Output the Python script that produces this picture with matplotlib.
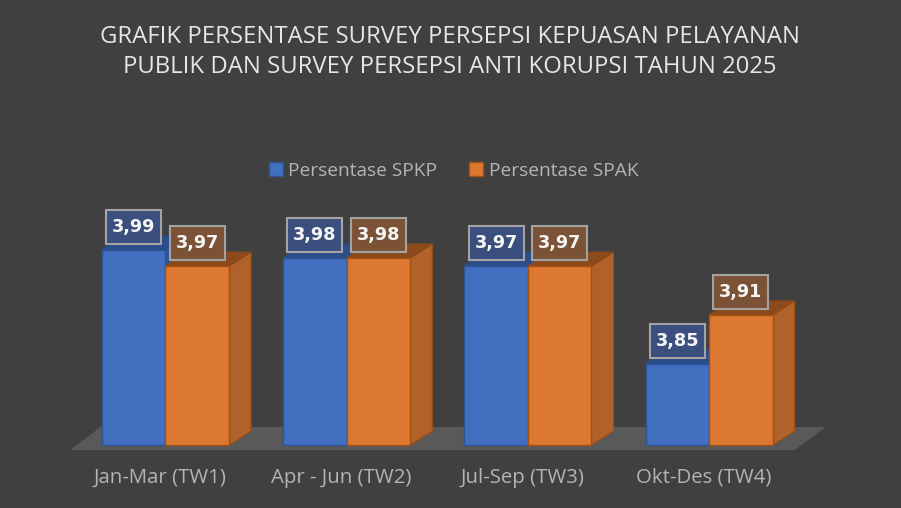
import matplotlib
matplotlib.use('Agg')
import matplotlib.pyplot as plt
from matplotlib.patches import Patch, Polygon, Rectangle

plt.rcParams['font.family'] = ['Open Sans', 'DejaVu Sans']

categories = ['Jan-Mar (TW1)', 'Apr - Jun (TW2)', 'Jul-Sep (TW3)', 'Okt-Des (TW4)']
spkp = [3.99, 3.98, 3.97, 3.85]
spak = [3.97, 3.98, 3.97, 3.91]
series_names = ['Persentase SPKP', 'Persentase SPAK']
title = 'GRAFIK PERSENTASE SURVEY PERSEPSI KEPUASAN PELAYANAN\nPUBLIK DAN SURVEY PERSEPSI ANTI KORUPSI TAHUN 2025'

BG = '#404040'
FLOOR = '#595959'
W, H = 901, 508
PX_X = 181.2   # pixels per category
PX_Y = 813.0   # pixels per value unit
BASE = 3.75
BAR_W = 63.5 / PX_X
DX = 22 / PX_X
DY = 14 / PX_Y

COLORS = {
    'blue': dict(front='#4070bf', edge='#2f5597', side='#2f5597', top='#2b4d8c',
                 box='#3b4f7e'),
    'orange': dict(front='#dc7831', edge='#a5500f', side='#b0622a', top='#8c4a1a',
                   box='#7c5236'),
}


def draw_bar(ax, x, value, c, z):
    # side and top first, front face goes over them
    ax.add_patch(Polygon([(x, BASE), (x + DX, BASE + DY), (x + DX, value + DY), (x, value)],
                         fc=c['side'], ec=c['edge'], lw=0.8, zorder=z))
    ax.add_patch(Polygon([(x - BAR_W, value), (x, value), (x + DX, value + DY),
                          (x - BAR_W + DX, value + DY)],
                         fc=c['top'], ec=c['top'], lw=0.8, zorder=z))
    ax.bar(x - BAR_W / 2, value - BASE, BAR_W, bottom=BASE, color=c['front'],
           edgecolor=c['edge'], linewidth=1.0, zorder=z + 0.1)


def draw_label(ax, x, value, c):
    w, h = 55 / PX_X, 34 / PX_Y
    y = value + 23 / PX_Y
    ax.add_patch(Rectangle((x - w / 2, y - h / 2), w, h, fc=c['box'], ec='#a3a3a3',
                           lw=1.5, zorder=10))
    ax.text(x, y, f'{value:.2f}'.replace('.', ','), color='#f5f5f5', fontsize=12.7,
            family='DejaVu Sans', fontweight='bold', ha='center', va='center', zorder=11)


fig = plt.figure(figsize=(W / 100, H / 100), dpi=100, facecolor=BG)
ax = fig.add_axes([0, 0, 1, 1])
ax.set_xlim(-165.5 / PX_X, (W - 165.5) / PX_X)
ax.set_ylim(BASE - 63 / PX_Y, BASE + 445 / PX_Y)
ax.axis('off')

# floor of the 3d chart
ax.add_patch(Polygon([(-95.5 / PX_X, BASE - 5 / PX_Y), (629.5 / PX_X, BASE - 5 / PX_Y),
                      (660 / PX_X, BASE + 18 / PX_Y), (-65 / PX_X, BASE + 18 / PX_Y)],
                     fc=FLOOR, ec='none', zorder=1))

for i in range(len(categories)):
    draw_bar(ax, i, spkp[i], COLORS['blue'], 2 + i)
    draw_bar(ax, i + BAR_W, spak[i], COLORS['orange'], 2.5 + i)
for i in range(len(categories)):
    draw_label(ax, i - BAR_W / 2, spkp[i], COLORS['blue'])
    draw_label(ax, i + BAR_W / 2, spak[i], COLORS['orange'])
    ax.text(i - 0.03, BASE - 33 / PX_Y, categories[i], color='#b4b4b4', fontsize=14.7,
            ha='center', va='center')

fig.text(450 / W, 1 - 52 / H, title, color='#e6e6e6', fontsize=17.2, ha='center',
         va='center', linespacing=1.28)

handles = [Patch(fc=COLORS['blue']['front'], ec=COLORS['blue']['edge'], lw=1),
           Patch(fc=COLORS['orange']['front'], ec=COLORS['orange']['edge'], lw=1)]
fig.legend(handles, series_names, ncol=2, frameon=False, loc='center',
           bbox_to_anchor=(453.5 / W, 1 - 171 / H), fontsize=13.8, labelcolor='#b4b4b4',
           handlelength=0.75, handleheight=0.75, handletextpad=0.28, columnspacing=1.65)

fig.savefig('out.png', dpi=100, facecolor=BG)
